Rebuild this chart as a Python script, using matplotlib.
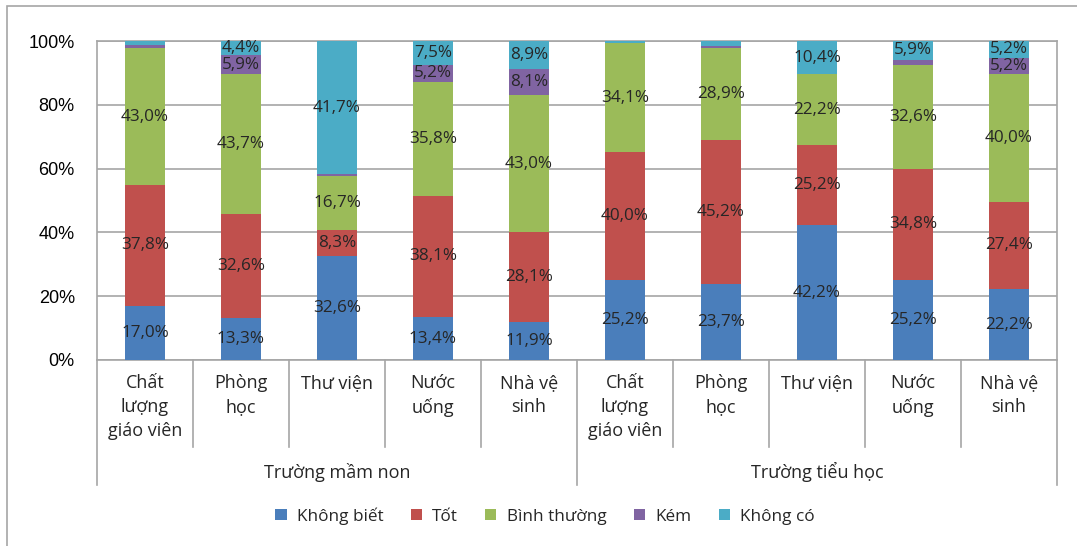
import matplotlib
matplotlib.use("Agg")
import matplotlib.pyplot as plt
import matplotlib.transforms as mtransforms
from matplotlib.patches import Rectangle
import numpy as np

plt.rcParams["font.family"] = ["Open Sans", "DejaVu Sans"]

# survey results, percent of respondents
groups = ["Trường mầm non", "Trường tiểu học"]
categories = ["Chất\nlượng\ngiáo viên", "Phòng\nhọc", "Thư viện", "Nước\nuống", "Nhà vệ\nsinh"] * 2
series_names = ["Không biết", "Tốt", "Bình thường", "Kém", "Không có"]
khong_biet = [17.0, 13.3, 32.6, 13.4, 11.9, 25.2, 23.7, 42.2, 25.2, 22.2]
tot = [37.8, 32.6, 8.3, 38.1, 28.1, 40.0, 45.2, 25.2, 34.8, 27.4]
binh_thuong = [43.0, 43.7, 16.7, 35.8, 43.0, 34.1, 28.9, 22.2, 32.6, 40.0]
kem = [0.8, 5.9, 0.7, 5.2, 8.1, 0.0, 0.7, 0.0, 1.5, 5.2]
khong_co = [1.4, 4.4, 41.7, 7.5, 8.9, 0.7, 1.5, 10.4, 5.9, 5.2]
colors = ["#4a7ebb", "#c0504d", "#9bbb59", "#8064a2", "#4bacc6"]

W, H = 1077, 546
fig = plt.figure(figsize=(W / 100, H / 100), dpi=100)
ax = fig.add_axes([97 / W, 1 - 360 / H, (1057 - 97) / W, (360 - 41) / H])

x = np.arange(len(categories))
bottom = np.zeros(len(categories))
handles = []
for name, vals, col in zip(series_names, [khong_biet, tot, binh_thuong, kem, khong_co], colors):
    vals = np.array(vals)
    bars = ax.bar(x, vals, 0.41, bottom=bottom, color=col, label=name, zorder=3)
    handles.append(bars)
    for xi, b, v in zip(x, bottom, vals):
        if v >= 4:
            ax.text(xi, b + v / 2, f"{v:.1f}%".replace(".", ","), ha="center", va="center",
                    fontsize=12.3, color="#262626", zorder=4)
    bottom += vals

ax.set_xlim(-0.5, len(categories) - 0.5)
ax.set_ylim(0, 100)
ax.set_yticks(range(0, 101, 20))
ax.set_yticklabels([f"{t}%" for t in range(0, 101, 20)], fontsize=13,
                   family=["Liberation Sans", "DejaVu Sans"])
ax.tick_params(axis="y", length=0, pad=16)
ax.tick_params(axis="x", length=0, labelbottom=False)
ax.grid(axis="y", color="#a6a6a6", linewidth=1.2, zorder=0)
for sp in ax.spines.values():
    sp.set_color("#a6a6a6")
    sp.set_linewidth(1.2)

# two-level category axis
trans = mtransforms.blended_transform_factory(ax.transData, ax.transAxes)
px = 1 / (360 - 41)
for i in range(1, len(categories)):
    if i == 5:
        continue
    ax.plot([i - 0.5, i - 0.5], [0, -(447 - 360) * px], color="#a6a6a6", lw=1.2,
            transform=trans, clip_on=False)
for xs in [-0.5, 4.5, 9.5]:
    ax.plot([xs, xs], [0, -(485 - 360) * px], color="#a6a6a6", lw=1.2,
            transform=trans, clip_on=False)
for xi, lab in zip(x, categories):
    ax.text(xi, -(374 - 360) * px, lab, ha="center", va="top", fontsize=13,
            linespacing=1.42, color="#262626", transform=trans)
for gi, g in enumerate(groups):
    ax.text(2 + 5 * gi, -(472 - 360) * px, g, ha="center", va="center", fontsize=13,
            color="#262626", transform=trans)

fig.legend(handles=handles, loc="center", bbox_to_anchor=(0.506, 1 - 516 / H), ncol=5,
           frameon=False, fontsize=12.3, handlelength=0.65, handleheight=0.65,
           handletextpad=0.6, columnspacing=1.6, labelcolor="#262626")

# chart border
fig.patches.append(Rectangle((7 / W, -0.1), 1.2, 1.1 - 6 / H, transform=fig.transFigure,
                             fill=False, edgecolor="#a6a6a6", linewidth=1.2))

fig.savefig("out.png", dpi=100)
